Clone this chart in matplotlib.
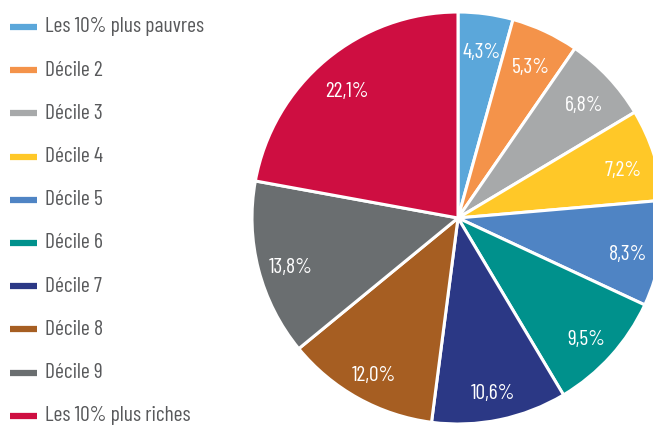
import matplotlib
matplotlib.use("Agg")
import matplotlib.pyplot as plt
from matplotlib.lines import Line2D
from matplotlib.transforms import ScaledTranslation

plt.rcParams['font.family'] = ['Barlow Condensed', 'DejaVu Sans']

labels = ["Les 10% plus pauvres", "Décile 2", "Décile 3", "Décile 4", "Décile 5",
          "Décile 6", "Décile 7", "Décile 8", "Décile 9", "Les 10% plus riches"]
shares = [4.3, 5.3, 6.8, 7.2, 8.3, 9.5, 10.6, 12.0, 13.8, 22.1]
colors = ["#5BA7DA", "#F4934A", "#A7A9AA", "#FFC828", "#4F84C4",
          "#00918C", "#2B3885", "#A65E22", "#6A6E70", "#CE0E41"]
pct_labels = [f"{v:.1f}%".replace(".", ",") for v in shares]

W, H = 653, 425
fig = plt.figure(figsize=(W / 100, H / 100), dpi=100)
ax = fig.add_axes([0, 0, 1, 1])

wedges, texts = ax.pie(shares, colors=colors, labels=pct_labels, labeldistance=0.84,
                       startangle=90, counterclock=False,
                       center=(458, H - 218), radius=206, frame=True,
                       wedgeprops=dict(edgecolor='white', linewidth=2.2),
                       textprops=dict(color='white', fontsize=15.5))
shift = ScaledTranslation(0, -6 / 100, fig.dpi_scale_trans)
for t in texts:
    t.set_ha('center')
    t.set_va('center')
    t.set_transform(t.get_transform() + shift)
ax.set_xlim(0, W)
ax.set_ylim(0, H)
ax.set_aspect('equal')
ax.axis('off')

# legend
text_color = "#58595B"
for i, (lab, col) in enumerate(zip(labels, colors)):
    y = 27 + i * 43.2
    fy = 1 - y / H
    fig.add_artist(Line2D([10 / W, 37 / W], [fy, fy], color=col, linewidth=4.5,
                          solid_capstyle='butt', transform=fig.transFigure))
    fig.text(45 / W, fy, lab, color=text_color, fontsize=15.5, va='center', ha='left')

fig.savefig("out.png", dpi=100)
